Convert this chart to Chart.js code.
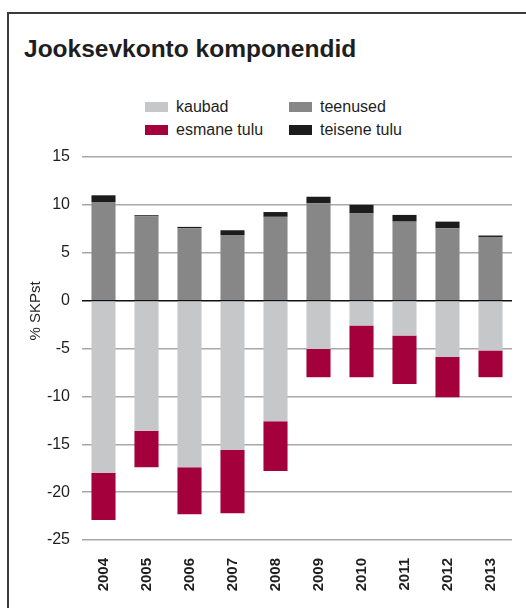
<!DOCTYPE html>
<html>
<head>
<meta charset="utf-8">
<script src="https://cdn.jsdelivr.net/npm/chart.js@4/dist/chart.umd.min.js"></script>
<style>
    html, body {
        margin: 0;
        padding: 0;
        width: 526px;
        height: 608px;
        overflow: hidden;
        background: #fff;
        font-family: "Liberation Sans", Arial, sans-serif;
        color: #1e1e1e;
    }
    .frame {
        position: absolute;
        left: 7px;
        top: 12px;
        width: 620px;
        height: 700px;
        border: 2px solid #3a3a3a;
    }
    .title {
        position: absolute;
        left: 24px;
        top: 35px;
        font-size: 24.5px;
        font-weight: bold;
        margin: 0;
    }
    #legend {
        position: absolute;
        left: 145px;
        top: 98px;
        display: grid;
        grid-template-columns: 144px 150px;
        row-gap: 5px;
        font-size: 16px;
    }
    .legend-item {
        display: flex;
        align-items: center;
        height: 18px;
    }
    .swatch {
        width: 23px;
        height: 10px;
        margin-right: 8px;
    }
    #wrap {
        position: absolute;
        left: 0;
        top: 0;
        width: 526px;
        height: 608px;
    }
</style>
</head>
<body>
<div class="frame"></div>
<h1 class="title">Jooksevkonto komponendid</h1>
<div id="legend"></div>
<div id="wrap"><canvas id="chart"></canvas></div>

<script>
// data

const years = ["2004", "2005", "2006", "2007", "2008", "2009", "2010", "2011", "2012", "2013"];
const kaubad = [-18.0, -13.6, -17.4, -15.6, -12.6, -5.05, -2.6, -3.65, -5.9, -5.2];
const teenused = [10.3, 8.8, 7.55, 6.85, 8.75, 10.15, 9.1, 8.25, 7.55, 6.65];
const esmaneTulu = [-4.9, -3.8, -4.9, -6.6, -5.2, -2.95, -5.4, -5.05, -4.2, -2.8];
const teiseneTulu = [0.7, 0.12, 0.15, 0.5, 0.5, 0.7, 0.9, 0.7, 0.7, 0.15];
const yTicks = [15, 10, 5, 0, -5, -10, -15, -20, -25];

const fontFamily = '"Liberation Sans", Arial, sans-serif';

const chartData = {
    labels: years,
    datasets: [
        { label: 'kaubad', data: kaubad, backgroundColor: '#c6c7c9' },
        { label: 'teenused', data: teenused, backgroundColor: '#878787' },
        { label: 'esmane tulu', data: esmaneTulu, backgroundColor: '#a3003c' },
        { label: 'teisene tulu', data: teiseneTulu, backgroundColor: '#1c1c1c' }
    ]
};

chartData.datasets.forEach(ds => {
    ds.barPercentage = 0.56;
    ds.categoryPercentage = 1;
    ds.borderWidth = 0;
});

// legend in two columns

const legend = document.getElementById('legend');
chartData.datasets.forEach(ds => {
    const item = document.createElement('div');
    item.className = 'legend-item';
    item.innerHTML = `<span class="swatch" style="background:${ds.backgroundColor}"></span><span>${ds.label}</span>`;
    legend.appendChild(item);
});

// y axis title, placed by hand
const yTitle = {
    id: 'yTitle',
    afterDraw(chart) {
        const c = chart.ctx;
        c.save();
        c.translate(36, 311);
        c.rotate(-Math.PI / 2);
        c.font = '15px ' + fontFamily;
        c.fillStyle = '#1e1e1e';
        c.textAlign = 'center';
        c.textBaseline = 'middle';
        c.fillText('% SKPst', 0, 0);
        c.restore();
    }
};

const chartOptions = {
    responsive: true,
    maintainAspectRatio: false,
    animation: false,
    layout: {
        padding: { top: 157, right: 14, bottom: 8, left: 0 }
    },
    scales: {
        x: {
            stacked: true,
            grid: { display: false },
            border: { display: false },
            ticks: {
                minRotation: 90,
                maxRotation: 90,
                padding: 10,
                color: '#1e1e1e',
                font: { family: fontFamily, size: 15, weight: 'bold' }
            },
            afterFit(scale) {
                scale.height = 60;
            }
        },
        y: {
            stacked: true,
            min: -25,
            max: 15,
            afterBuildTicks(scale) {
                scale.ticks = yTicks.map(v => ({ value: v }));
            },
            grid: {
                drawTicks: false,
                lineWidth: 1.5,
                color: ctx => ctx.tick && ctx.tick.value === 0 ? '#111' : '#a8a8a8'
            },
            border: { display: false },
            ticks: {
                padding: 12,
                color: '#1e1e1e',
                font: { family: fontFamily, size: 16 }
            },
            afterFit(scale) {
                scale.width = 82;
            }
        }
    },
    plugins: {
        legend: { display: false },
        tooltip: { enabled: false }
    }
};

let chart = new Chart(document.getElementById('chart'), {
    type: 'bar',
    data: chartData,
    options: chartOptions,
    plugins: [yTitle]
});
</script>
</body>
</html>
